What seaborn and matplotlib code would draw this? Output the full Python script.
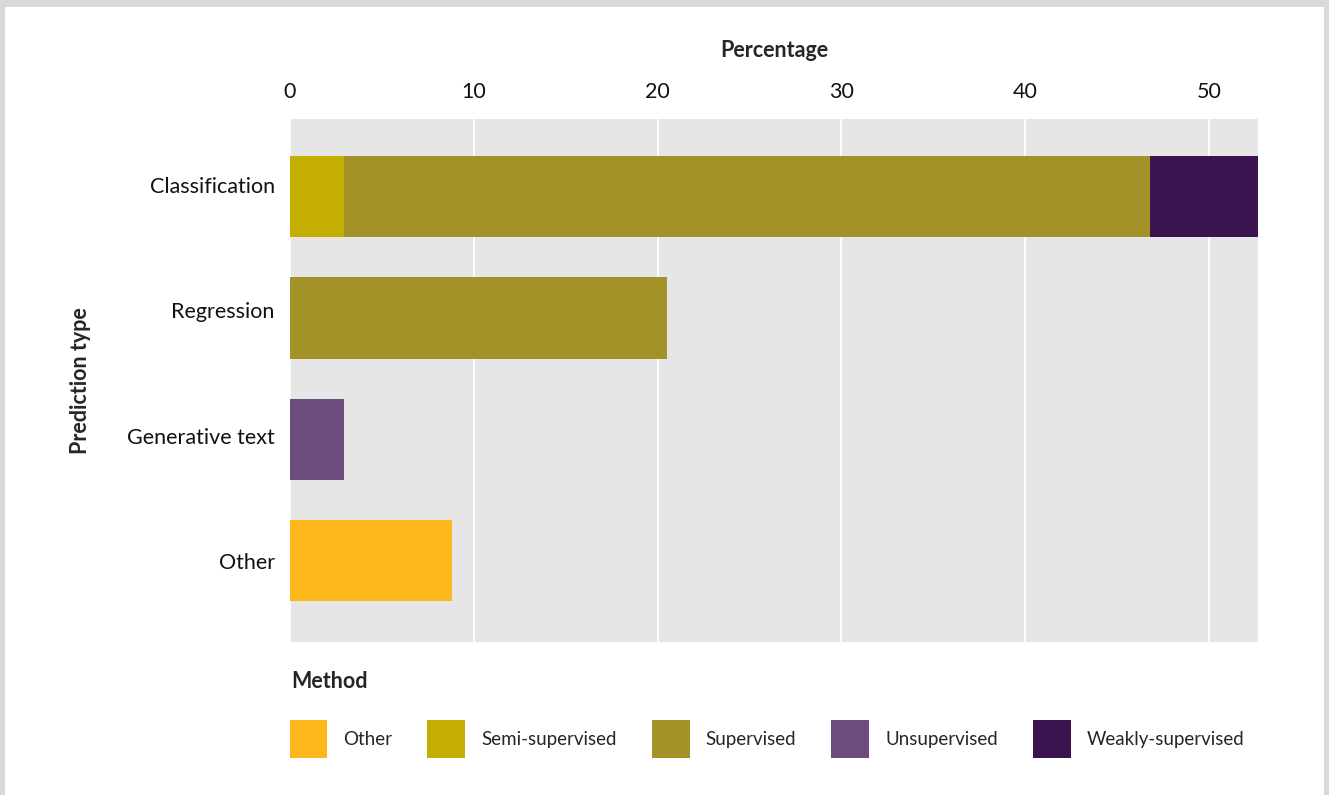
import pandas as pd
import seaborn as sns
import matplotlib.pyplot as plt
import matplotlib.transforms as mtransforms
from matplotlib.patches import Patch, Rectangle

# data (percent)
categories = ["Classification", "Regression", "Generative text", "Other"]
methods = ["Other", "Semi-supervised", "Supervised", "Unsupervised", "Weakly-supervised"]
other = [0, 0, 0, 8.81]
semi_supervised = [2.94, 0, 0, 0]
supervised = [43.85, 20.51, 0, 0]
unsupervised = [0, 0, 2.94, 0]
weakly_supervised = [5.88, 0, 0, 0]

colors = ["#FDB71A", "#C4AF00", "#A29228", "#6C4C7E", "#3C1450"]

df = pd.DataFrame({
    "Prediction type": categories,
    "Other": other,
    "Semi-supervised": semi_supervised,
    "Supervised": supervised,
    "Unsupervised": unsupervised,
    "Weakly-supervised": weakly_supervised,
})

# cumulative sums so the bars can be layered into a stack
cum = df[methods].cumsum(axis=1)
cum["Prediction type"] = df["Prediction type"]

sns.set_style("whitegrid", {"axes.facecolor": "#E6E6E6", "grid.color": "white"})
plt.rcParams["font.family"] = ["Lato", "DejaVu Sans"]

fig = plt.figure(figsize=(13.29, 7.95), dpi=100)
fig.patch.set_facecolor("#D9D9D9")
# white card inside the grey frame
fig.patches.append(Rectangle((5 / 1329, 0), 1319 / 1329, 788 / 795,
                             transform=fig.transFigure, facecolor="white",
                             edgecolor="none", zorder=-1))

ax = fig.add_axes([290 / 1329, 1 - 642 / 795, 968 / 1329, 523 / 795])

# largest cumulative first, smaller ones on top
for method, color in reversed(list(zip(methods, colors))):
    sns.barplot(data=cum, x=method, y="Prediction type", order=categories,
                color=color, width=0.67, saturation=1, ax=ax, linewidth=0)

ax.set_xlim(0, 52.67)
ax.set_ylim(3.67, -0.64)
ax.xaxis.tick_top()
ax.xaxis.set_label_position("top")
ax.set_xticks([0, 10, 20, 30, 40, 50])
ax.grid(axis="x", color="white", linewidth=1.3)
ax.grid(axis="y", visible=False)
for s in ax.spines.values():
    s.set_visible(False)
ax.tick_params(axis="both", length=0, labelsize=15.5, colors="#111111")
ax.tick_params(axis="x", pad=12)
ax.tick_params(axis="y", pad=11)

# category labels sit a little higher than the bar centres in the original
label_shift = [8.5, 5.8, 2.5, 0]
for lab, dy in zip(ax.get_yticklabels(), label_shift):
    lab.set_transform(lab.get_transform() +
                      mtransforms.ScaledTranslation(0, dy / 72, fig.dpi_scale_trans))

ax.set_xlabel("Percentage", fontsize=15.5, fontweight="bold", labelpad=18.5)
ax.set_ylabel("Prediction type", fontsize=15.5, fontweight="bold", labelpad=26)

# legend below the plot
fig.text(291 / 1329, 1 - 681 / 795, "Method", fontsize=15.5, fontweight="bold",
         ha="left", va="center")
handles = [Patch(facecolor=c, edgecolor="none", label=m) for m, c in zip(methods, colors)]
fig.legend(handles=handles, loc="center left", bbox_to_anchor=(282 / 1329, 1 - 739 / 795),
           ncol=5, frameon=False, fontsize=13.5, handlelength=2.02, handleheight=2.75,
           handletextpad=0.85, columnspacing=1.87, borderaxespad=0)

fig.savefig("out.png", dpi=100)
